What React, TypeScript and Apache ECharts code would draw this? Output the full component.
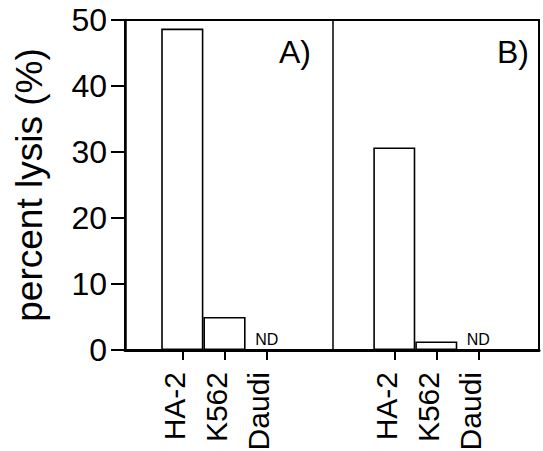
import React, { useEffect, useRef } from "react";
import * as echarts from "echarts";

const categories = ["HA-2", "K562", "Daudi"];
const panelA: (number | null)[] = [48.7, 5.0, null];
const panelB: (number | null)[] = [30.7, 1.3, null];
const panelLabels = ["A)", "B)"];
const yMin = 0;
const yMax = 50;
const yInterval = 10;
const yTitle = "percent lysis (%)";
const missingText = "ND";

const FONT = "'Liberation Sans', Arial, Helvetica, sans-serif";

const W = 543;
const H = 451;
const TOP = 20;
const PLOT_H = 330;
const LEFT = 125;
const RIGHT_EDGE = 539;
const DIVIDER = 333;

function toData(arr: (number | null)[]) {
  return arr.map((v) =>
    v === null
      ? {
          value: 0,
          itemStyle: { borderWidth: 0, color: "rgba(0,0,0,0)" },
          label: {
            show: true,
            formatter: missingText,
            position: "top",
            distance: 3,
            fontSize: 16,
            color: "#000",
            fontFamily: FONT,
          },
        }
      : v
  );
}

export default function App() {
  const ref = useRef<HTMLDivElement>(null);
  useEffect(() => {
    if (!ref.current) return;
    const chart = echarts.init(ref.current, undefined, { renderer: "svg" });
    const catAxis = (gridIndex: number) => ({
      type: "category",
      gridIndex,
      data: categories,
      axisLine: { show: false },
      axisTick: {
        show: true,
        alignWithLabel: true,
        length: 10,
        inside: false,
        lineStyle: { color: "#000", width: 2 },
      },
      axisLabel: {
        show: true,
        rotate: 90,
        interval: 0,
        margin: 22,
        fontSize: 30,
        color: "#000",
        fontFamily: FONT,
        verticalAlign: "bottom",
        lineHeight: 16,
      },
      splitLine: { show: false },
    });
    const hiddenY = (gridIndex: number) => ({
      type: "value",
      gridIndex,
      min: yMin,
      max: yMax,
      interval: yInterval,
      show: false,
    });
    const barSeries = (axisIndex: number, data: (number | null)[]) => ({
      type: "bar",
      xAxisIndex: axisIndex,
      yAxisIndex: axisIndex,
      data: toData(data),
      barCategoryGap: "0%",
      itemStyle: { color: "#fff", borderColor: "#000", borderWidth: 1.6 },
      label: { show: false },
    });
    const gridCommon = { containLabel: false, outerBoundsMode: "none" };
    chart.setOption({
      animation: false,
      backgroundColor: "#fff",
      grid: [
        {
          ...gridCommon,
          left: LEFT,
          top: TOP,
          width: RIGHT_EDGE - LEFT,
          height: PLOT_H,
          show: true,
          borderColor: "#000",
          borderWidth: 2,
          backgroundColor: "rgba(0,0,0,0)",
        },
        { ...gridCommon, left: 161.2, top: TOP, width: 126.6, height: PLOT_H },
        { ...gridCommon, left: 373.3, top: TOP, width: 126, height: PLOT_H },
      ],
      xAxis: [
        {
          type: "value",
          gridIndex: 0,
          min: 0,
          max: 1,
          axisLine: { show: true, lineStyle: { color: "#000", width: 3 } },
          axisTick: { show: false },
          axisLabel: { show: false },
          splitLine: { show: false },
        },
        catAxis(1),
        catAxis(2),
      ],
      yAxis: [
        {
          type: "value",
          gridIndex: 0,
          min: yMin,
          max: yMax,
          interval: yInterval,
          axisLine: { show: true, lineStyle: { color: "#000", width: 2.5 } },
          axisTick: {
            show: true,
            length: 14,
            inside: false,
            lineStyle: { color: "#000", width: 2 },
          },
          axisLabel: {
            show: true,
            margin: 18,
            fontSize: 32,
            color: "#000",
            fontFamily: FONT,
          },
          splitLine: { show: false },
          name: yTitle,
          nameLocation: "middle",
          nameGap: 77,
          nameRotate: 90,
          nameTextStyle: { fontSize: 37, color: "#000", fontFamily: FONT },
        },
        hiddenY(1),
        hiddenY(2),
      ],
      series: [barSeries(1, panelA), barSeries(2, panelB)],
      graphic: [
        {
          type: "line",
          shape: { x1: DIVIDER, y1: TOP, x2: DIVIDER, y2: TOP + PLOT_H },
          style: { stroke: "#000", lineWidth: 1.5 },
          z: 10,
        },
        {
          type: "text",
          x: 311,
          y: 52,
          style: {
            text: panelLabels[0],
            fontSize: 32,
            fontFamily: FONT,
            fill: "#000",
            textAlign: "right",
            textVerticalAlign: "middle",
          },
        },
        {
          type: "text",
          x: 529,
          y: 52,
          style: {
            text: panelLabels[1],
            fontSize: 32,
            fontFamily: FONT,
            fill: "#000",
            textAlign: "right",
            textVerticalAlign: "middle",
          },
        },
      ],
    });
    return () => chart.dispose();
  }, []);
  return (
    <div
      ref={ref}
      style={{ position: "fixed", left: 0, top: 0, width: W, height: H }}
    />
  );
}
